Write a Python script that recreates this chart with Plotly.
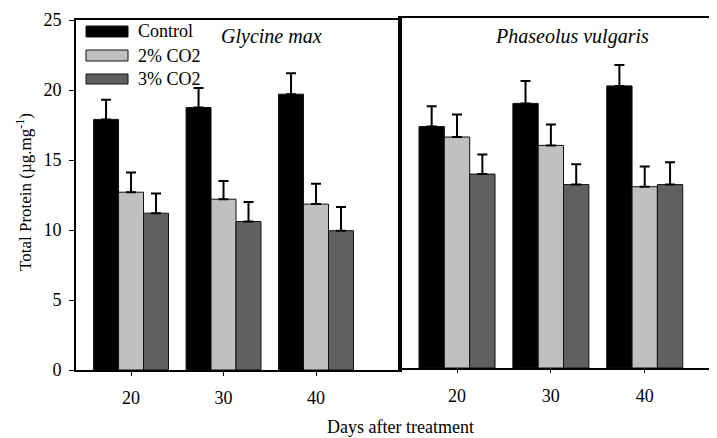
import plotly.graph_objects as go

days = ["20", "30", "40"]
series_names = ["Control", "2% CO2", "3% CO2"]
series_colors = ["#000000", "#c0c0c0", "#606060"]

# Glycine max (left panel)
glycine_values = [
    [17.9, 18.75, 19.7],    # Control
    [12.7, 12.2, 11.85],    # 2% CO2
    [11.2, 10.6, 9.95],     # 3% CO2
]
glycine_errors = [
    [1.4, 1.4, 1.5],
    [1.4, 1.3, 1.45],
    [1.4, 1.4, 1.7],
]

# Phaseolus vulgaris (right panel)
phaseolus_values = [
    [17.25, 18.9, 20.15],
    [16.5, 15.9, 12.95],
    [13.85, 13.1, 13.1],
]
phaseolus_errors = [
    [1.45, 1.6, 1.5],
    [1.6, 1.5, 1.45],
    [1.4, 1.45, 1.6],
]

y_ticks = [0, 5, 10, 15, 20, 25]

FONT = "Liberation Serif"
OFF = 8  # default page body margin around the figure
W, H = 717 - OFF, 438 - OFF
ML, MR, MT, MB = 76 - OFF, 0, 18 - OFF, 68
PW, PH = W - ML - MR, H - MT - MB

fig = go.Figure()

for vals, errs, xa, ya in [(glycine_values, glycine_errors, "x", "y"),
                           (phaseolus_values, phaseolus_errors, "x2", "y2")]:
    for name, color, v, e in zip(series_names, series_colors, vals, errs):
        fig.add_trace(go.Bar(
            x=days, y=v, name=name, xaxis=xa, yaxis=ya,
            marker=dict(color=color, line=dict(color="#111111", width=1)),
            error_y=dict(type="data", array=e, arrayminus=[0] * len(e),
                         symmetric=False, thickness=2, width=5, color="#000000"),
            showlegend=False,
        ))

# page-pixel -> paper coordinate helpers
def px_x(x):
    return (x - OFF - ML) / PW

def px_y(y):
    return (H - MB - (y - OFF)) / PH

left_end = px_x(400)
right_start = px_x(400.7)

tickfont = dict(family=FONT, size=18, color="#000000")

fig.update_layout(
    width=W, height=H,
    margin=dict(l=ML, r=MR, t=MT, b=MB),
    paper_bgcolor="white", plot_bgcolor="white",
    barmode="group", bargap=0.19, bargroupgap=0,
    font=dict(family=FONT, size=18, color="#000000"),
    xaxis=dict(domain=[0, left_end], type="category", range=[-0.595, 2.908],
               showline=True, linecolor="#000000", linewidth=2, mirror=True,
               ticks="outside", ticklen=4, tickcolor="#000000", tickwidth=1,
               tickfont=tickfont, showgrid=False, zeroline=False,
               ticklabelstandoff=6),
    yaxis=dict(domain=[0, 350 / PH], range=[0, 25], tickvals=y_ticks,
               showline=True, linecolor="#000000", linewidth=2, mirror=True,
               ticks="outside", ticklen=5, tickcolor="#000000", tickwidth=1,
               tickfont=tickfont, showgrid=False, zeroline=False,
               ticklabelstandoff=4),
    xaxis2=dict(domain=[right_start, 1], type="category", range=[-0.6, 2.77],
                anchor="y2",
                showline=True, linecolor="#000000", linewidth=2, mirror=True,
                ticks="outside", ticklen=3, tickcolor="#000000", tickwidth=1,
                tickfont=tickfont, showgrid=False, zeroline=False,
                ticklabelstandoff=7),
    yaxis2=dict(domain=[2 / PH, 1], range=[0, 25], anchor="x2",
                showline=True, linecolor="#000000", linewidth=3, mirror=False,
                showticklabels=False, ticks="", showgrid=False, zeroline=False),
)

# Legend drawn manually (wide swatches)
legend_rows = [(26, 37), (50, 61), (74, 84)]
for (y0, y1), name, color in zip(legend_rows, series_names, series_colors):
    fig.add_shape(type="rect", xref="paper", yref="paper",
                  x0=px_x(86), x1=px_x(128), y0=px_y(y1), y1=px_y(y0),
                  fillcolor=color, line=dict(color="#111111", width=1))
    fig.add_annotation(xref="paper", yref="paper", x=px_x(136), y=px_y((y0 + y1) / 2),
                       text=name, showarrow=False, xanchor="left", yanchor="middle",
                       font=dict(family=FONT, size=18, color="#000000"))

# Panel titles
fig.add_annotation(xref="paper", yref="paper", x=px_x(271), y=px_y(37),
                   text="<i>Glycine max</i>", showarrow=False,
                   xanchor="center", yanchor="middle",
                   font=dict(family=FONT, size=20, color="#000000"))
fig.add_annotation(xref="paper", yref="paper", x=px_x(572), y=px_y(37),
                   text="<i>Phaseolus vulgaris</i>", showarrow=False,
                   xanchor="center", yanchor="middle",
                   font=dict(family=FONT, size=20, color="#000000"))

# Axis titles
fig.add_annotation(xref="paper", yref="paper", x=px_x(400), y=px_y(427),
                   text="Days after treatment", showarrow=False,
                   xanchor="center", yanchor="middle",
                   font=dict(family=FONT, size=18, color="#000000"))
fig.add_annotation(xref="paper", yref="paper", x=px_x(24), y=px_y(192),
                   text="Total Protein (µg.mg<sup>-1</sup>)", showarrow=False,
                   textangle=-90, xanchor="center", yanchor="middle",
                   font=dict(family=FONT, size=17, color="#000000"))

fig.write_html("out.html")
